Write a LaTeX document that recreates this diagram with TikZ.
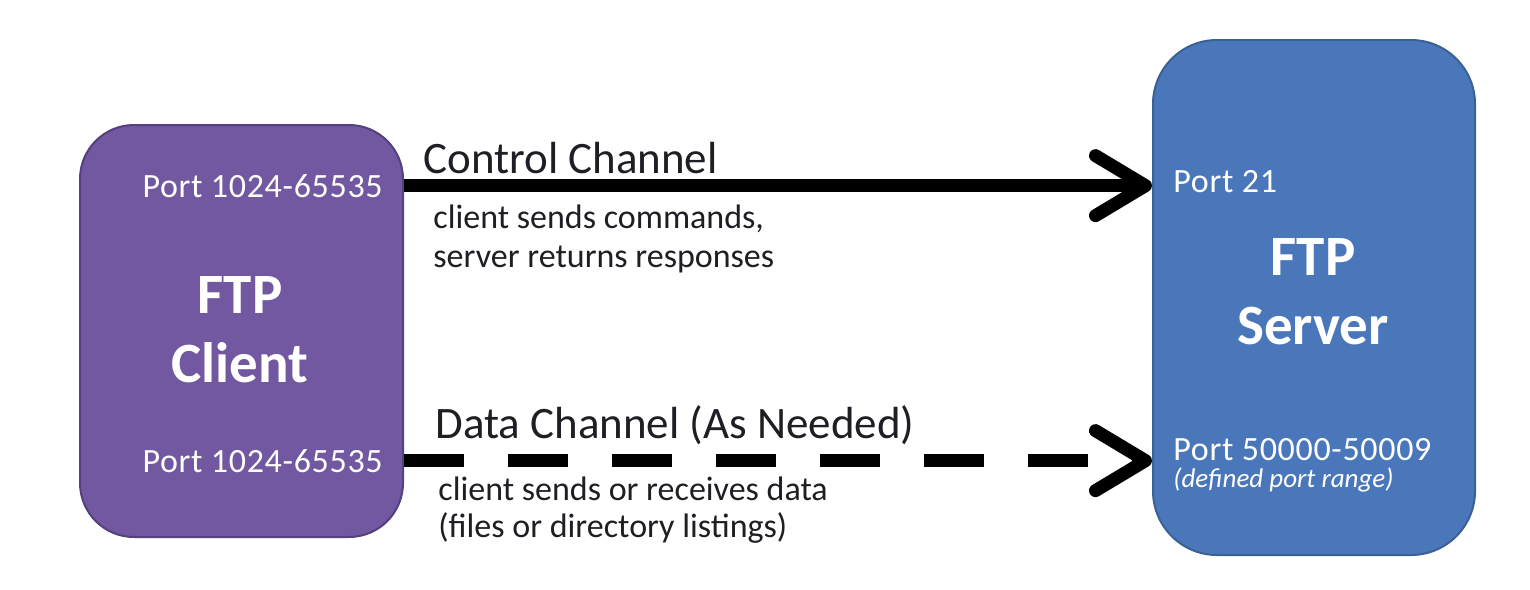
\documentclass[tikz,border=0pt]{standalone}
\usepackage{fontspec}
\setmainfont{Carlito}
\usetikzlibrary{arrows.meta}
\definecolor{clientfill}{HTML}{7158A0}
\definecolor{clientline}{HTML}{54407F}
\definecolor{serverfill}{HTML}{4A77BA}
\definecolor{serverline}{HTML}{3A6196}
\definecolor{labeltext}{HTML}{1E1E24}
\begin{document}
\begin{tikzpicture}[x=0.5pt,y=-0.5pt,
  hostbox/.style={line width=1pt, inner sep=0pt},
  port/.style={text=white, font=\addfontfeature{LetterSpace=2}\fontsize{17}{20}\selectfont, inner sep=0pt},
  rangenote/.style={text=white, font=\itshape\fontsize{13.5}{16}\selectfont, inner sep=0pt, anchor=base west},
  hosttitle/.style={text=white, font=\bfseries\fontsize{28.5}{34.5}\selectfont, inner sep=0pt, anchor=base},
  chanlabel/.style={text=labeltext, font=\fontsize{22.5}{27}\selectfont, inner sep=0pt, anchor=base west},
  channote/.style={text=labeltext, font=\fontsize{17}{19.5}\selectfont, inner sep=0pt, anchor=base west},
  link/.style={line width=6.5pt, -{Straight Barb[length=25pt,width=30pt,line cap=round,line join=round]}}
]
\useasboundingbox (0,0) rectangle (1530,589);

% hosts
\node[hostbox, fill=clientfill, draw=clientline, rounded corners=27pt,
      minimum width=161.5pt, minimum height=206pt] (client) at (241.5,331) {};
\node[hostbox, fill=serverfill, draw=serverline, rounded corners=32pt,
      minimum width=161pt, minimum height=257.5pt] (server) at (1314,297.5) {};

\node[hosttitle] (clienttitle) at (240,313) {\begin{tabular}[t]{@{}c@{}}FTP\\Client\end{tabular}};
\node[hosttitle] (servertitle) at (1313,275) {\begin{tabular}[t]{@{}c@{}}FTP\\Server\end{tabular}};

% ports
\node[port, anchor=base east] (cport1) at (383,197) {Port 1024-65535};
\node[port, anchor=base east] (cport2) at (383,472) {Port 1024-65535};
\node[port, anchor=base west] (sport1) at (1173,192) {Port 21};
\node[port, anchor=base west] (sport2) at (1173,460) {Port 50000-50009};
\node[rangenote] (srange) at (1173,487) {(defined port range)};

% channels
\draw[link] (client.east |- cport1) -- (server.west |- cport1);
\draw[link, dash pattern=on 30pt off 22pt] (client.east |- cport2) -- (server.west |- cport2);

\node[chanlabel] (ctrllabel) at (423,173) {Control Channel};
\node[channote] (ctrlnote) at (433,228)
  {\begin{tabular}[t]{@{}l@{}}client sends commands,\\server returns responses\end{tabular}};
\node[chanlabel] (datalabel) at (435,438) {Data Channel (As Needed)};
\node[channote] (datanote) at (438,500)
  {\fontsize{17}{18.5}\selectfont\begin{tabular}[t]{@{}l@{}}client sends or receives data\\(files or directory listings)\end{tabular}};
\end{tikzpicture}
\end{document}
